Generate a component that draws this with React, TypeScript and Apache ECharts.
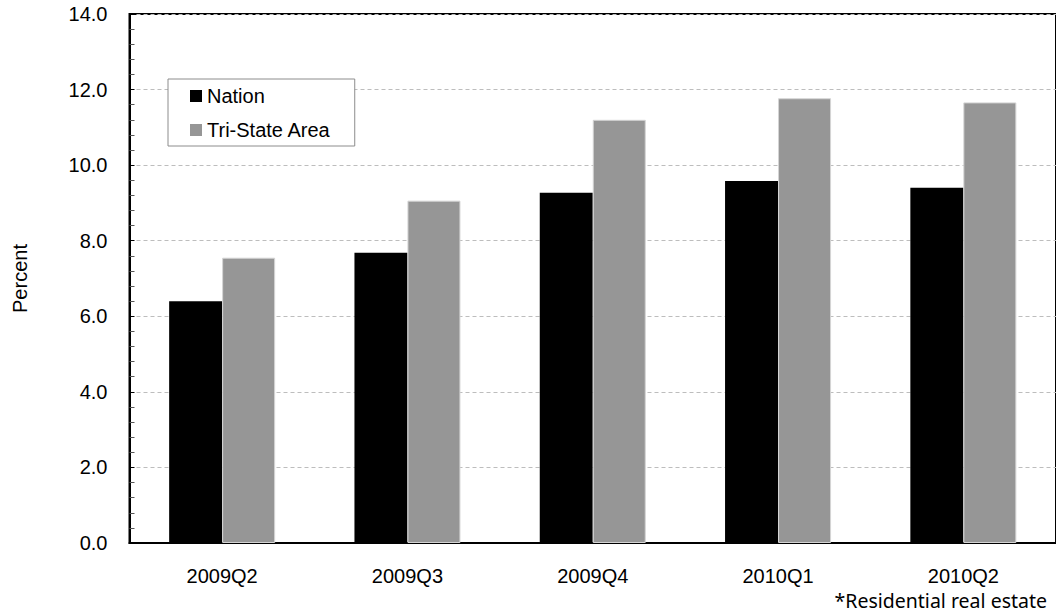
import React, { useEffect, useRef } from "react";
import * as echarts from "echarts";

// Quarterly values, percent
const quarters = ["2009Q2", "2009Q3", "2009Q4", "2010Q1", "2010Q2"];
const nation = [6.4, 7.68, 9.27, 9.58, 9.4];
const triState = [7.55, 9.06, 11.2, 11.77, 11.66];
const seriesNames = ["Nation", "Tri-State Area"];
const yAxisTitle = "Percent";
const footnote = "*Residential real estate";

const FONT = "'Liberation Sans', Arial, Helvetica, sans-serif";

export default function App() {
  const ref = useRef<HTMLDivElement>(null);

  useEffect(() => {
    if (!ref.current) return;
    const chart = echarts.init(ref.current, undefined, { renderer: "svg" });
    chart.setOption({
      animation: false,
      backgroundColor: "#ffffff",
      textStyle: { fontFamily: FONT, color: "#000" },
      grid: {
        left: 129.5,
        top: 14,
        width: 927.5,
        height: 529,
        show: true,
        borderColor: "#000",
        borderWidth: 2,
        backgroundColor: "transparent",
      },
      legend: {
        orient: "vertical",
        left: 168,
        top: 79,
        padding: [7, 24, 6, 22],
        itemGap: 14,
        itemWidth: 12,
        itemHeight: 12,
        itemStyle: { borderWidth: 0 },
        borderColor: "#8c8c8c",
        borderWidth: 1,
        backgroundColor: "#fff",
        textStyle: { fontFamily: FONT, fontSize: 20, color: "#000", padding: [0, 0, 0, 0] },
        data: seriesNames.map((n) => ({ name: n, icon: "rect" })),
      },
      xAxis: {
        type: "category",
        data: quarters,
        axisLine: { lineStyle: { color: "#000", width: 2 } },
        axisTick: { show: false },
        axisLabel: { fontFamily: FONT, fontSize: 20, lineHeight: 20, color: "#000", margin: 23 },
        splitLine: { show: false },
      },
      yAxis: {
        type: "value",
        min: 0,
        max: 14,
        interval: 2,
        name: yAxisTitle,
        nameLocation: "middle",
        nameRotate: 90,
        nameGap: 100,
        nameTextStyle: { fontFamily: FONT, fontSize: 20, color: "#000" },
        axisLine: { show: true, lineStyle: { color: "#000", width: 2 } },
        axisTick: { show: true, inside: true, length: 5, lineStyle: { color: "#000", width: 1 } },
        minorTick: { show: true, splitNumber: 5, length: 5, lineStyle: { color: "#555", width: 1 } },
        axisLabel: {
          fontFamily: FONT,
          fontSize: 20,
          color: "#000",
          margin: 22,
          formatter: (v: number) => v.toFixed(1),
        },
        splitLine: { show: true, lineStyle: { color: "#bdbdbd", width: 1, type: [4, 3] } },
      },
      series: [
        {
          name: seriesNames[0],
          type: "bar",
          data: nation,
          barWidth: 53,
          barGap: "0%",
          itemStyle: { color: "#000000" },
        },
        {
          name: seriesNames[1],
          type: "bar",
          data: triState,
          barWidth: 53,
          barGap: "0%",
          itemStyle: { color: "#969696", borderColor: "#d4d4d4", borderWidth: 1 },
        },
      ],
      graphic: [
        {
          type: "text",
          right: 9,
          top: 590,
          style: {
            text: footnote,
            fontFamily: "'Noto Sans', 'Open Sans', sans-serif",
            fontSize: 19.5,
            lineHeight: 17,
            fill: "#000",
          },
        },
      ],
    });
    return () => chart.dispose();
  }, []);

  return (
    <div
      ref={ref}
      style={{ position: "fixed", left: 0, top: 0, width: 1056, height: 613 }}
    />
  );
}
